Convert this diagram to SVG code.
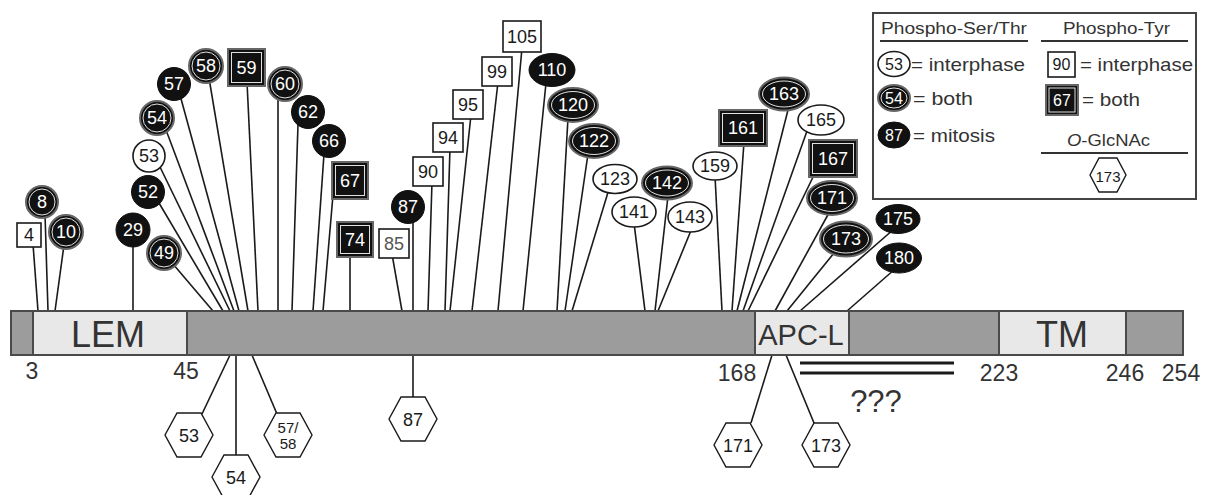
<svg xmlns="http://www.w3.org/2000/svg" width="1218" height="495" viewBox="0 0 1218 495">
<style>
.ln{stroke:#1a1a1a;stroke-width:1.6;fill:none}
.w{fill:#fff;stroke:#1a1a1a;stroke-width:1.6}
.k{fill:#111;stroke:#111;stroke-width:1}
.bo{fill:#111;stroke:#666;stroke-width:2}
.bi{fill:none;stroke:#e0e0e0;stroke-width:1}
.t{font-family:"Liberation Sans",Arial,sans-serif;font-size:18px;text-anchor:middle;dominant-baseline:central;fill:#1a1a1a}
.tw{fill:#fff}
.hx{fill:#fff;stroke:#1a1a1a;stroke-width:1.4}
.num{font-family:"Liberation Sans",Arial,sans-serif;font-size:23px;fill:#333}
.dom{font-family:"Liberation Sans",Arial,sans-serif;font-size:36px;text-anchor:middle;fill:#333}
.lg{font-family:"Liberation Sans",Arial,sans-serif;font-size:19px;fill:#333}
.lh{font-family:"Liberation Sans",Arial,sans-serif;font-size:16px;fill:#333}
</style>
<defs>
<polygon id="hex" points="-24,0 -12,-22 12,-22 24,0 12,22 -12,22"/>
<polygon id="hexs" points="-18,0 -9,-17 9,-17 18,0 9,17 -9,17"/>
</defs>

<g id="connectors">
<line class="ln" x1="33" y1="244" x2="38" y2="311"/>
<line class="ln" x1="45" y1="214" x2="48" y2="311"/>
<line class="ln" x1="64" y1="245" x2="55" y2="311"/>
<line class="ln" x1="133" y1="244" x2="133" y2="311"/>
<line class="ln" x1="173" y1="264" x2="213" y2="311"/>
<line class="ln" x1="159" y1="203" x2="223" y2="311"/>
<line class="ln" x1="160" y1="167" x2="230" y2="311"/>
<line class="ln" x1="166" y1="130" x2="234" y2="311"/>
<line class="ln" x1="180" y1="95" x2="239" y2="311"/>
<line class="ln" x1="209" y1="78" x2="248" y2="311"/>
<line class="ln" x1="247" y1="82" x2="258" y2="311"/>
<line class="ln" x1="278" y1="97" x2="278" y2="311"/>
<line class="ln" x1="298" y1="124" x2="292" y2="311"/>
<line class="ln" x1="324" y1="154" x2="313" y2="311"/>
<line class="ln" x1="333" y1="195" x2="323" y2="311"/>
<line class="ln" x1="350" y1="254" x2="350" y2="311"/>
<line class="ln" x1="392" y1="254" x2="402" y2="311"/>
<line class="ln" x1="413" y1="219" x2="413" y2="311"/>
<line class="ln" x1="432" y1="182" x2="428" y2="311"/>
<line class="ln" x1="450" y1="148" x2="445" y2="311"/>
<line class="ln" x1="471" y1="115" x2="450" y2="311"/>
<line class="ln" x1="498" y1="82" x2="472" y2="311"/>
<line class="ln" x1="522" y1="48" x2="498" y2="311"/>
<line class="ln" x1="546" y1="83" x2="523" y2="311"/>
<line class="ln" x1="568" y1="118" x2="557" y2="311"/>
<line class="ln" x1="588" y1="154" x2="565" y2="311"/>
<line class="ln" x1="609" y1="189" x2="572" y2="311"/>
<line class="ln" x1="634" y1="223" x2="645" y2="311"/>
<line class="ln" x1="668" y1="196" x2="655" y2="311"/>
<line class="ln" x1="692" y1="228" x2="658" y2="311"/>
<line class="ln" x1="715" y1="176" x2="722" y2="311"/>
<line class="ln" x1="744" y1="142" x2="732" y2="311"/>
<line class="ln" x1="789" y1="106" x2="737" y2="311"/>
<line class="ln" x1="807" y1="131" x2="743" y2="311"/>
<line class="ln" x1="815" y1="173" x2="748" y2="311"/>
<line class="ln" x1="830" y1="211" x2="775" y2="311"/>
<line class="ln" x1="834" y1="253" x2="787" y2="311"/>
<line class="ln" x1="894" y1="229" x2="800" y2="311"/>
<line class="ln" x1="895" y1="269" x2="847" y2="311"/>
<line class="ln" x1="230" y1="355" x2="202" y2="414"/>
<line class="ln" x1="236" y1="355" x2="236" y2="455"/>
<line class="ln" x1="252" y1="355" x2="277" y2="414"/>
<line class="ln" x1="413" y1="355" x2="413" y2="397"/>
<line class="ln" x1="772" y1="355" x2="751" y2="423"/>
<line class="ln" x1="786" y1="355" x2="814" y2="423"/>
</g>

<g id="protein">
<rect x="11" y="311" width="1172" height="44" fill="#9c9c9c" stroke="#4a4a4a" stroke-width="2"/>
<rect x="33" y="311" width="154" height="44" fill="#e8e8e8" stroke="#4a4a4a" stroke-width="2"/>
<rect x="755" y="311" width="94" height="44" fill="#e8e8e8" stroke="#4a4a4a" stroke-width="2"/>
<rect x="999" y="311" width="127" height="44" fill="#e8e8e8" stroke="#4a4a4a" stroke-width="2"/>
<text class="dom" x="108" y="347">LEM</text>
<text class="dom" x="801" y="345" style="font-size:29px">APC-L</text>
<text class="dom" x="1062" y="347">TM</text>
<text class="num" x="32" y="379" text-anchor="middle">3</text>
<text class="num" x="186" y="379" text-anchor="middle">45</text>
<text class="num" x="737" y="381" text-anchor="middle">168</text>
<text class="num" x="999" y="381" text-anchor="middle">223</text>
<text class="num" x="1125" y="381" text-anchor="middle">246</text>
<text class="num" x="1181" y="381" text-anchor="middle">254</text>
</g>

<g id="unknown-region">
<line x1="800" y1="363" x2="954" y2="363" stroke="#1a1a1a" stroke-width="3"/>
<line x1="800" y1="373" x2="954" y2="373" stroke="#1a1a1a" stroke-width="3"/>
<text class="num" x="876" y="412" text-anchor="middle" style="font-size:31px">???</text>
</g>

<!-- Phospho-Ser/Thr and Tyr sites -->
<g id="s4"><rect class="w" x="17" y="223" width="24" height="24"/><text class="t" x="29" y="235">4</text></g>
<g id="s8"><circle class="bo" cx="42" cy="202" r="16"/><circle class="bi" cx="42" cy="202" r="13"/><text class="t tw" x="42" y="202">8</text></g>
<g id="s10"><circle class="bo" cx="66" cy="232" r="17"/><circle class="bi" cx="66" cy="232" r="14"/><text class="t tw" x="66" y="232">10</text></g>
<g id="s29"><circle class="k" cx="133" cy="230" r="17"/><text class="t tw" x="133" y="230">29</text></g>
<g id="s49"><circle class="bo" cx="164" cy="253" r="17"/><circle class="bi" cx="164" cy="253" r="14"/><text class="t tw" x="164" y="253">49</text></g>
<g id="s52"><circle class="k" cx="148" cy="192" r="16.5"/><text class="t tw" x="148" y="192">52</text></g>
<g id="s53"><circle class="w" cx="149" cy="156" r="16"/><text class="t" x="149" y="156">53</text></g>
<g id="s54"><circle class="bo" cx="157" cy="118" r="17"/><circle class="bi" cx="157" cy="118" r="14"/><text class="t tw" x="157" y="118">54</text></g>
<g id="s57"><circle class="k" cx="174" cy="84" r="16.5"/><text class="t tw" x="174" y="84">57</text></g>
<g id="s58"><circle class="bo" cx="206" cy="66" r="17"/><circle class="bi" cx="206" cy="66" r="14"/><text class="t tw" x="206" y="66">58</text></g>
<g id="s59"><rect class="bo" x="228" y="49" width="37" height="37"/><rect class="bi" x="231.5" y="52.5" width="30" height="30"/><text class="t tw" x="246.5" y="67.5">59</text></g>
<g id="s60"><circle class="bo" cx="285" cy="84" r="17"/><circle class="bi" cx="285" cy="84" r="14"/><text class="t tw" x="285" y="84">60</text></g>
<g id="s62"><circle class="k" cx="308" cy="112" r="16.5"/><text class="t tw" x="308" y="112">62</text></g>
<g id="s66"><circle class="k" cx="329" cy="141" r="16.5"/><text class="t tw" x="329" y="141">66</text></g>
<g id="s67"><rect class="bo" x="332" y="162" width="36" height="37"/><rect class="bi" x="335.5" y="165.5" width="29" height="30"/><text class="t tw" x="350" y="180.5">67</text></g>
<g id="s74"><rect class="bo" x="337" y="222" width="36" height="35"/><rect class="bi" x="340.5" y="225.5" width="29" height="28"/><text class="t tw" x="355" y="239.5">74</text></g>
<g id="s85"><rect class="w" x="379" y="229" width="30" height="29"/><text class="t" x="394" y="243.5" style="fill:#555">85</text></g>
<g id="s87"><circle class="k" cx="408" cy="207" r="16.5"/><text class="t tw" x="408" y="207">87</text></g>
<g id="s90"><rect class="w" x="413" y="157" width="30" height="29"/><text class="t" x="428" y="171.5">90</text></g>
<g id="s94"><rect class="w" x="433" y="123" width="30" height="29"/><text class="t" x="448" y="137.5">94</text></g>
<g id="s95"><rect class="w" x="453" y="90" width="30" height="29"/><text class="t" x="468" y="104.5">95</text></g>
<g id="s99"><rect class="w" x="482" y="57" width="30" height="29"/><text class="t" x="497" y="71.5">99</text></g>
<g id="s105"><rect class="w" x="503" y="21" width="38" height="31"/><text class="t" x="522" y="36.5">105</text></g>
<g id="s110"><ellipse class="k" cx="552" cy="70" rx="23" ry="16.5"/><text class="t tw" x="552" y="70">110</text></g>
<g id="s120"><ellipse class="bo" cx="573" cy="105" rx="25" ry="17"/><ellipse class="bi" cx="573" cy="105" rx="21.5" ry="13.5"/><text class="t tw" x="573" y="105">120</text></g>
<g id="s122"><ellipse class="bo" cx="594" cy="141" rx="25" ry="17"/><ellipse class="bi" cx="594" cy="141" rx="21.5" ry="13.5"/><text class="t tw" x="594" y="141">122</text></g>
<g id="s123"><ellipse class="w" cx="615" cy="179" rx="22" ry="14.5"/><text class="t" x="615" y="179">123</text></g>
<g id="s141"><ellipse class="w" cx="634" cy="212" rx="22" ry="15"/><text class="t" x="634" y="212">141</text></g>
<g id="s142"><ellipse class="bo" cx="667" cy="183" rx="25" ry="16.5"/><ellipse class="bi" cx="667" cy="183" rx="21.5" ry="13"/><text class="t tw" x="667" y="183">142</text></g>
<g id="s143"><ellipse class="w" cx="690" cy="217" rx="22" ry="15"/><text class="t" x="690" y="217">143</text></g>
<g id="s159"><ellipse class="w" cx="715" cy="166" rx="22" ry="14"/><text class="t" x="715" y="166">159</text></g>
<g id="s161"><rect class="bo" x="719" y="110" width="48" height="36"/><rect class="bi" x="722.5" y="113.5" width="41" height="29"/><text class="t tw" x="743" y="128">161</text></g>
<g id="s163"><ellipse class="bo" cx="784" cy="94" rx="25" ry="16.5"/><ellipse class="bi" cx="784" cy="94" rx="21.5" ry="13"/><text class="t tw" x="784" y="94">163</text></g>
<g id="s165"><ellipse class="w" cx="821" cy="120" rx="23" ry="15"/><text class="t" x="821" y="120">165</text></g>
<g id="s167"><rect class="bo" x="809" y="140" width="48" height="37"/><rect class="bi" x="812.5" y="143.5" width="41" height="30"/><text class="t tw" x="833" y="158.5">167</text></g>
<g id="s171"><ellipse class="bo" cx="832" cy="198" rx="25" ry="17"/><ellipse class="bi" cx="832" cy="198" rx="21.5" ry="13.5"/><text class="t tw" x="832" y="198">171</text></g>
<g id="s173"><ellipse class="bo" cx="846" cy="239" rx="26" ry="17.5"/><ellipse class="bi" cx="846" cy="239" rx="22.5" ry="14"/><text class="t tw" x="846" y="239">173</text></g>
<g id="s175"><ellipse class="k" cx="898" cy="219" rx="22" ry="14.5"/><text class="t tw" x="898" y="219">175</text></g>
<g id="s180"><ellipse class="k" cx="899" cy="258" rx="22.5" ry="15"/><text class="t tw" x="899" y="258">180</text></g>

<!-- O-GlcNAc sites -->
<g id="g53"><use href="#hex" class="hx" transform="translate(189,435)"/><text class="t" x="189" y="436">53</text></g>
<g id="g54"><use href="#hex" class="hx" transform="translate(236,477)"/><text class="t" x="236" y="478">54</text></g>
<g id="g5758"><use href="#hex" class="hx" transform="translate(288,435)"/><text class="t" x="288" y="427" style="font-size:15px">57/</text><text class="t" x="288" y="443" style="font-size:15px">58</text></g>
<g id="g87"><use href="#hex" class="hx" transform="translate(413,419)"/><text class="t" x="413" y="420">87</text></g>
<g id="g171"><use href="#hex" class="hx" transform="translate(738,445)"/><text class="t" x="738" y="446">171</text></g>
<g id="g173"><use href="#hex" class="hx" transform="translate(826,445)"/><text class="t" x="826" y="446">173</text></g>

<g id="legend">
<rect x="873" y="13" width="323" height="186" fill="#fff" stroke="#444" stroke-width="2"/>
<text class="lh" x="881" y="34" textLength="146" lengthAdjust="spacingAndGlyphs">Phospho-Ser/Thr</text>
<line x1="880" y1="41" x2="1028" y2="41" stroke="#333" stroke-width="2"/>
<text class="lh" x="1063" y="34" textLength="107" lengthAdjust="spacingAndGlyphs">Phospho-Tyr</text>
<line x1="1041" y1="41" x2="1188" y2="41" stroke="#333" stroke-width="2"/>
<ellipse class="w" cx="894" cy="64" rx="16" ry="12.5"/><text class="t" x="894" y="64" style="font-size:16px">53</text>
<text class="lg" x="911" y="71" textLength="114" lengthAdjust="spacingAndGlyphs">= interphase</text>
<ellipse class="bo" cx="894" cy="98" rx="16" ry="13"/><ellipse class="bi" cx="894" cy="98" rx="13" ry="10"/><text class="t tw" x="894" y="98" style="font-size:16px">54</text>
<text class="lg" x="913" y="105" textLength="60" lengthAdjust="spacingAndGlyphs">= both</text>
<ellipse class="k" cx="894" cy="135" rx="16" ry="13"/><text class="t tw" x="894" y="135" style="font-size:16px">87</text>
<text class="lg" x="913" y="142" textLength="82" lengthAdjust="spacingAndGlyphs">= mitosis</text>
<rect class="w" x="1048" y="52" width="27" height="25"/><text class="t" x="1061.5" y="64.5" style="font-size:16px">90</text>
<text class="lg" x="1080" y="71" textLength="113" lengthAdjust="spacingAndGlyphs">= interphase</text>
<rect class="bo" x="1046" y="85" width="32" height="30"/><rect class="bi" x="1049" y="88" width="26" height="24"/><text class="t tw" x="1062" y="100" style="font-size:16px">67</text>
<text class="lg" x="1082" y="106" textLength="58" lengthAdjust="spacingAndGlyphs">= both</text>
<text class="lh" x="1067" y="146" textLength="83" lengthAdjust="spacingAndGlyphs"><tspan font-style="italic">O</tspan>-GlcNAc</text>
<line x1="1041" y1="153" x2="1188" y2="153" stroke="#333" stroke-width="2"/>
<use href="#hexs" class="hx" transform="translate(1108,175)"/><text class="t" x="1108" y="176" style="font-size:15px">173</text>
</g>
</svg>
